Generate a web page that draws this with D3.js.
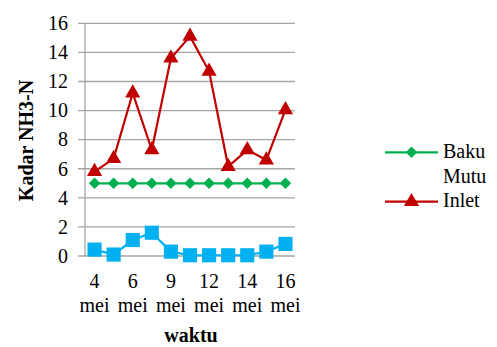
<!DOCTYPE html>
<html><head><meta charset="utf-8">
<script src="https://cdn.jsdelivr.net/npm/d3@7/dist/d3.min.js"></script>
<style>body{margin:0;background:#fff}svg{display:block}</style>
</head><body>
<svg id="c" width="497" height="347"></svg>
<script>
const categories = ["4 mei","5 mei","6 mei","8 mei","9 mei","11 mei","12 mei","13 mei","14 mei","15 mei","16 mei"];
const bakuMutu = [5,5,5,5,5,5,5,5,5,5,5];
const inlet = [5.8,6.7,11.2,7.3,13.6,15.1,12.7,6.15,7.3,6.6,10.05];
const outlet = [0.44,0.1,1.1,1.6,0.3,0.05,0.05,0.05,0.05,0.3,0.83];
const yTicks = [0,2,4,6,8,10,12,14,16];

const FONT = '"Liberation Serif","Times New Roman",serif';
const FS = 20;
const svg = d3.select("#c");
const L = 85, R = 295, T = 23.3, B = 256;
const x = d3.scaleBand().domain(categories).range([L, R]);
const cx = d => x(d) + x.bandwidth()/2;
const y = d3.scaleLinear().domain([0,16]).range([B, T]);

// gridlines
svg.append("g").selectAll("line").data(yTicks).join("line")
  .attr("x1", 78).attr("x2", R).attr("y1", d=>y(d)).attr("y2", d=>y(d))
  .attr("stroke", "#a6a6a6").attr("stroke-width", 1.3);
svg.append("line").attr("x1", L).attr("x2", L).attr("y1", T).attr("y2", B)
  .attr("stroke", "#a6a6a6").attr("stroke-width", 1.3);

// y tick labels
svg.append("g").selectAll("text").data(yTicks).join("text")
  .attr("x", 68).attr("y", d=>y(d)).attr("dy", "0.34em")
  .attr("text-anchor","end").attr("font-size", FS).style("font-family", FONT)
  .attr("fill","#000").text(d=>d);

// x tick labels
const xl = svg.append("g").selectAll("text").data(categories.filter((d,i)=>i%2===0)).join("text")
  .attr("text-anchor","middle").attr("font-size", FS).style("font-family", FONT).attr("fill","#000");
xl.append("tspan").attr("x", d=>cx(d)).attr("y", 288).text(d=>d.split(" ")[0]);
xl.append("tspan").attr("x", d=>cx(d)).attr("y", 311.5).text(d=>d.split(" ")[1]);

// axis titles
svg.append("text").attr("x", 191).attr("y", 342).attr("text-anchor","middle")
  .attr("font-size", FS).style("font-family", FONT).attr("font-weight","bold").text("waktu");
svg.append("text").attr("transform","translate(32.5,140.5) rotate(-90)").attr("text-anchor","middle")
  .attr("font-size", FS).style("font-family", FONT).attr("font-weight","bold").text("Kadar NH3-N");

const diamond = d3.symbol().type(d3.symbolSquare).size(66);
function marker(sel, sym, size) {
  if (sym === "diamond") {
    sel.attr("d", diamond()).attr("transform", function(){ return d3.select(this).attr("transform") + " rotate(45)"; });
  } else {
    sel.attr("d", d3.symbol().type(sym).size(size)());
  }
}
const line = d3.line().x((d,i)=>cx(categories[i])).y(d=>y(d));
function series(data, color, sym, size) {
  svg.append("path").datum(data).attr("d", line).attr("fill","none")
    .attr("stroke", color).attr("stroke-width", 2.2);
  const m = svg.append("g").selectAll("path").data(data).join("path")
    .attr("transform", (d,i)=>`translate(${cx(categories[i])},${y(d)})`)
    .attr("fill", color);
  m.call(marker, sym, size);
}
series(outlet, "#00B0F0", d3.symbolSquare, 200);
series(bakuMutu, "#00B050", "diamond", 0);
series(inlet, "#C00000", d3.symbolTriangle, 100);

// legend
const leg = [{name:["Baku","Mutu"], color:"#00B050", sym:"diamond", size:0, y:152.3},
             {name:["Inlet"], color:"#C00000", sym:d3.symbolTriangle, size:100, y:201.7}];
leg.forEach(l => {
  svg.append("line").attr("x1",385).attr("x2",438).attr("y1",l.y).attr("y2",l.y)
    .attr("stroke", l.color).attr("stroke-width", 2.2);
  svg.append("path").attr("transform",`translate(411.5,${l.y})`)
    .attr("fill", l.color).call(marker, l.sym, l.size);
  const t = svg.append("text").attr("font-size", FS).style("font-family", FONT).attr("fill","#000");
  l.name.forEach((n,i)=> t.append("tspan").attr("x",443).attr("y", l.y + 5.5 + i*25).text(n));
});
</script>
</body></html>
